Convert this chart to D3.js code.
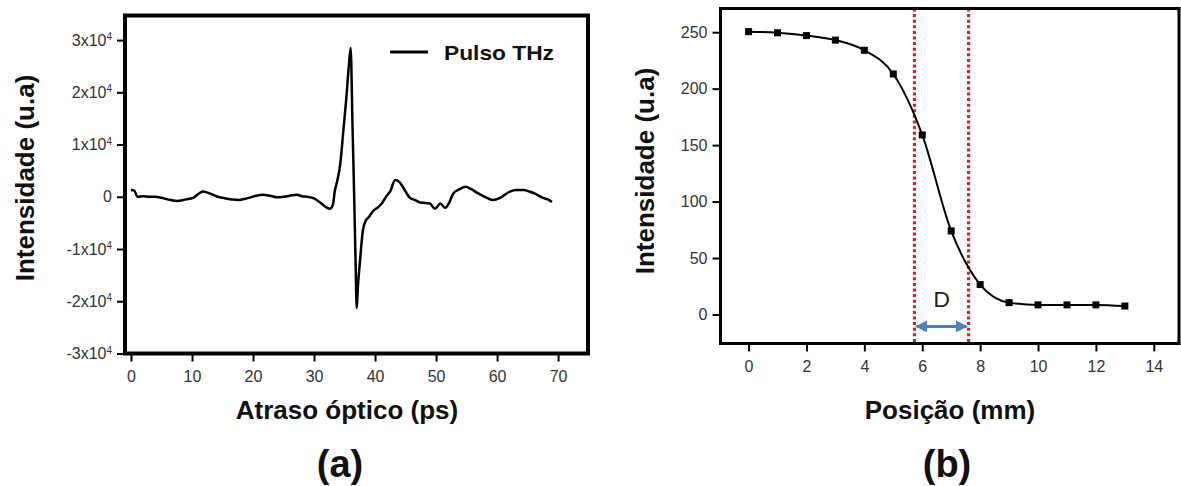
<!DOCTYPE html>
<html>
<head>
<meta charset="utf-8">
<script src="https://cdn.jsdelivr.net/npm/d3@7"></script>
<style>
  body { margin: 0; background: #fff; }
  svg { display: block; font-family: 'Liberation Sans', Arial, sans-serif; }
</style>
</head>
<body>
<script>
// (a) pulso THz, atraso em ps e amplitude em u.a.
const delayPs = [0, 0.5, 1.1, 2, 3, 4, 5, 6, 7.5, 9, 10.2, 11, 11.8, 13, 14, 15, 16.5, 17.5, 19, 20.5,
  21.5, 22.8, 24, 25, 26, 27.2, 28, 28.9, 30, 31, 32, 32.6, 33.1, 33.4, 33.8, 34.3, 34.8, 35.3, 35.7, 36.0,
  36.3, 36.6, 36.8, 37.0, 37.2, 37.5, 38.0, 38.5, 38.9, 39.7, 40.5, 41.1, 41.8, 42.5, 43.3, 44, 45, 45.7,
  46.5, 47.4, 49, 49.8, 50.7, 51.5, 52.2, 52.8, 53.8, 54.8, 55.7, 56.7, 58, 59.3, 60.5, 62.1, 63.2, 64.3,
  65.3, 66.2, 67.5, 68.3, 69.0];
const pulseAmp = [1300, 1200, 0, 100, 0, 0, -200, -500, -800, -500, -200, 500, 1000, 600, 100, -200, -500, -600, -300, 200,
  400, 200, -100, 0, 200, 400, 100, 0, -300, -1100, -2000, -2300, -1500, 1100, 3000, 6300, 12600, 19000, 25000, 28500,
  14000, -1000, -12000, -21300, -17000, -12800, -6500, -4500, -4000, -2700, -2000, -1300, 0, 1100, 3200, 2800, 1000, -200,
  -600, -1100, -1300, -2300, -1300, -2100, -1000, 600, 1400, 1900, 1500, 800, 0, -600, -200, 1000, 1300, 1300,
  1000, 600, -200, -500, -1000];
const xTicksA = [0, 10, 20, 30, 40, 50, 60, 70];
const yTicksA = [-30000, -20000, -10000, 0, 10000, 20000, 30000];

// (b) intensidade vs posição
const posMm = [0, 1, 2, 3, 4, 5, 6, 7, 8, 9, 10, 11, 12, 13];
const intensity = [250.5, 249.5, 247, 243, 234, 213, 159, 74, 26.5, 10.5, 8.5, 8.5, 8.5, 7.5];
const xTicksB = [0, 2, 4, 6, 8, 10, 12, 14];
const yTicksB = [0, 50, 100, 150, 200, 250];
const edgeMm = [5.73, 7.6];

const width = 1181;
const height = 486;

const svg = d3.select('body').append('svg')
  .attr('width', width)
  .attr('height', height);

// ---------- painel (a)
const xA = d3.scaleLinear().domain([-0.98, 74.9]).range([125, 588]);
const yA = d3.scaleLinear().domain([-30000, 34700]).range([353.5, 15.5]);

const gA = svg.append('g');

gA.append('path')
  .datum(delayPs.map((t, i)=>[t, pulseAmp[i]]))
  .attr('fill', 'none')
  .attr('stroke', '#000')
  .attr('stroke-width', 2.5)
  .attr('stroke-linejoin', 'round')
  .attr('d', d3.line().x((d)=>xA(d[0])).y((d)=>yA(d[1])).curve(d3.curveMonotoneX));

gA.append('rect')
  .attr('x', xA.range()[0]).attr('y', yA.range()[1])
  .attr('width', xA.range()[1] - xA.range()[0])
  .attr('height', yA.range()[0] - yA.range()[1])
  .attr('fill', 'none').attr('stroke', '#000').attr('stroke-width', 4);

const axAy = gA.append('g')
  .attr('transform', `translate(${xA.range()[0]},0)`)
  .call(d3.axisLeft(yA).tickValues(yTicksA).tickSize(8).tickPadding(5));
axAy.select('.domain').remove();
axAy.selectAll('.tick line').attr('stroke', '#000').attr('stroke-width', 2);
axAy.selectAll('.tick text')
  .attr('font-size', 16).attr('fill', '#333').attr('font-family', null)
  .each(function(d) {
    const t = d3.select(this).text(null);
    if (d === 0) {
      t.text('0');
      return;
    }
    t.append('tspan').text(`${d / 1e4}x10`);
    t.append('tspan').attr('dy', '-0.55em').attr('font-size', 10).text('4');
  });

const axAx = gA.append('g')
  .attr('transform', `translate(0,${yA.range()[0]})`)
  .call(d3.axisBottom(xA).tickValues(xTicksA).tickSize(8).tickPadding(9));
axAx.select('.domain').remove();
axAx.selectAll('.tick line').attr('stroke', '#000').attr('stroke-width', 2);
axAx.selectAll('.tick text').attr('font-size', 16).attr('fill', '#333').attr('font-family', null);

// legenda
gA.append('line')
  .attr('x1', 390).attr('x2', 428).attr('y1', 52).attr('y2', 52)
  .attr('stroke', '#000').attr('stroke-width', 3);
gA.append('text')
  .attr('x', 444).attr('y', 60)
  .attr('font-size', 21).attr('font-weight', 'bold').attr('fill', '#111')
  .attr('textLength', 110).attr('lengthAdjust', 'spacingAndGlyphs')
  .text('Pulso THz');

gA.append('text')
  .attr('transform', 'translate(34,178) rotate(-90)')
  .attr('text-anchor', 'middle')
  .attr('font-size', 26).attr('font-weight', 'bold').attr('fill', '#111')
  .text('Intensidade (u.a)');
gA.append('text')
  .attr('x', 347).attr('y', 419)
  .attr('text-anchor', 'middle')
  .attr('font-size', 26).attr('font-weight', 'bold').attr('fill', '#111')
  .text('Atraso óptico (ps)');
gA.append('text')
  .attr('x', 340).attr('y', 477)
  .attr('text-anchor', 'middle')
  .attr('font-size', 38).attr('font-weight', 'bold').attr('fill', '#111')
  .text('(a)');

// ---------- painel (b)
const xB = d3.scaleLinear().domain([-0.97, 14.87]).range([720.5, 1179]);
const yB = d3.scaleLinear().domain([-25.7, 271]).range([343.5, 8.5]);

const gB = svg.append('g');

gB.selectAll('line.edge')
  .data(edgeMm)
  .join('line')
  .attr('class', 'edge')
  .attr('x1', (d)=>xB(d)).attr('x2', (d)=>xB(d))
  .attr('y1', yB.range()[1]).attr('y2', yB.range()[0])
  .attr('stroke', '#e02020').attr('stroke-width', 3.2)
  .attr('stroke-dasharray', '3,2.6');

gB.append('path')
  .datum(posMm.map((p, i)=>[p, intensity[i]]))
  .attr('fill', 'none')
  .attr('stroke', '#000')
  .attr('stroke-width', 2)
  .attr('d', d3.line().x((d)=>xB(d[0])).y((d)=>yB(d[1])).curve(d3.curveMonotoneX));

gB.selectAll('rect.pt')
  .data(posMm.map((p, i)=>[p, intensity[i]]))
  .join('rect')
  .attr('class', 'pt')
  .attr('x', (d)=>xB(d[0]) - 3.5).attr('y', (d)=>yB(d[1]) - 3.5)
  .attr('width', 7).attr('height', 7)
  .attr('fill', '#000');

// seta D
const defs = svg.append('defs');
defs.append('marker')
  .attr('id', 'head')
  .attr('viewBox', '0 0 10 10')
  .attr('refX', 9).attr('refY', 5)
  .attr('markerWidth', 4).attr('markerHeight', 4)
  .attr('orient', 'auto-start-reverse')
  .append('path').attr('d', 'M0,0L10,5L0,10z').attr('fill', '#4f81bd');

const arrowY = yB(-10.6);
gB.append('line')
  .attr('x1', xB(edgeMm[0]) + 2).attr('x2', xB(edgeMm[1]) - 2)
  .attr('y1', arrowY).attr('y2', arrowY)
  .attr('stroke', '#4f81bd').attr('stroke-width', 3)
  .attr('marker-start', 'url(#head)').attr('marker-end', 'url(#head)');
gB.append('text')
  .attr('x', xB((edgeMm[0] + edgeMm[1]) / 2)).attr('y', yB(14) + 8)
  .attr('text-anchor', 'middle')
  .attr('font-family', 'Lato, "Open Sans", sans-serif')
  .attr('font-size', 22).attr('fill', '#222')
  .text('D');

gB.append('rect')
  .attr('x', xB.range()[0]).attr('y', yB.range()[1])
  .attr('width', xB.range()[1] - xB.range()[0])
  .attr('height', yB.range()[0] - yB.range()[1])
  .attr('fill', 'none').attr('stroke', '#000').attr('stroke-width', 3);

const axBy = gB.append('g')
  .attr('transform', `translate(${xB.range()[0]},0)`)
  .call(d3.axisLeft(yB).tickValues(yTicksB).tickSize(8).tickPadding(5));
axBy.select('.domain').remove();
axBy.selectAll('.tick line').attr('stroke', '#000').attr('stroke-width', 2);
axBy.selectAll('.tick text').attr('font-size', 16).attr('fill', '#333').attr('font-family', null);

const axBx = gB.append('g')
  .attr('transform', `translate(0,${yB.range()[0]})`)
  .call(d3.axisBottom(xB).tickValues(xTicksB).tickSize(8).tickPadding(9));
axBx.select('.domain').remove();
axBx.selectAll('.tick line').attr('stroke', '#000').attr('stroke-width', 2);
axBx.selectAll('.tick text').attr('font-size', 16).attr('fill', '#333').attr('font-family', null);

gB.append('text')
  .attr('transform', 'translate(654,171) rotate(-90)')
  .attr('text-anchor', 'middle')
  .attr('font-size', 26).attr('font-weight', 'bold').attr('fill', '#111')
  .text('Intensidade (u.a)');
gB.append('text')
  .attr('x', 950).attr('y', 419)
  .attr('text-anchor', 'middle')
  .attr('font-size', 26).attr('font-weight', 'bold').attr('fill', '#111')
  .text('Posição (mm)');
gB.append('text')
  .attr('x', 947).attr('y', 477)
  .attr('text-anchor', 'middle')
  .attr('font-size', 38).attr('font-weight', 'bold').attr('fill', '#111')
  .text('(b)');
</script>
</body>
</html>
